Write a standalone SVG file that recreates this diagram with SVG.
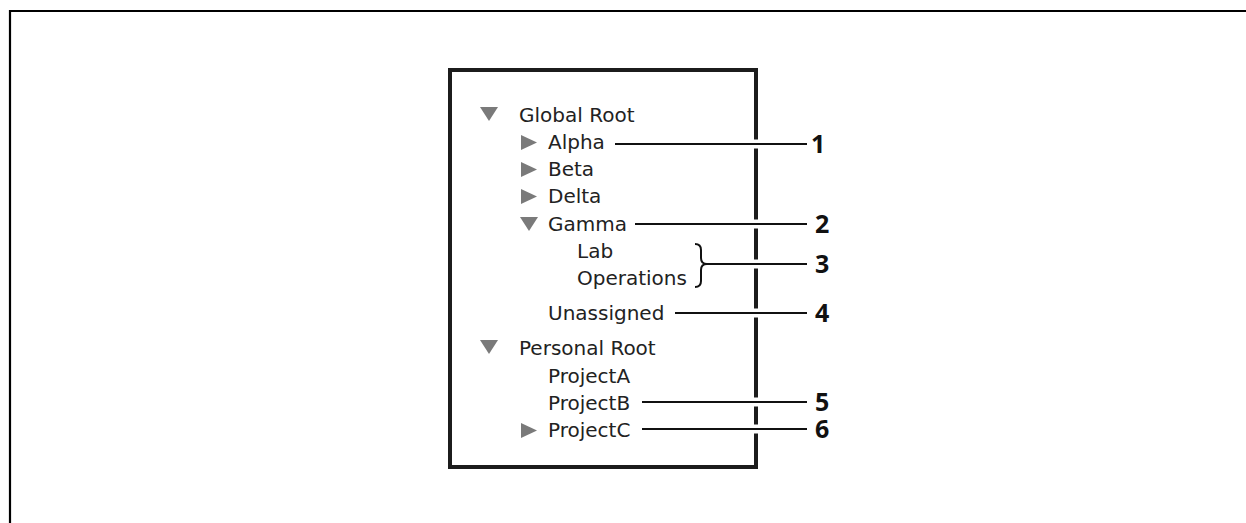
<svg xmlns="http://www.w3.org/2000/svg" width="1246" height="523" viewBox="0 0 1246 523">
  <style>
    .item { font-family: "DejaVu Sans", Verdana, sans-serif; font-size: 20px; fill: #222; }
    .num { font-family: "Open Sans", "Liberation Sans", sans-serif; font-size: 25px; font-weight: 700; fill: #111; }
    .tri { fill: #7a7a7a; }
    .halo { stroke: #fff; stroke-width: 9; fill: none; }
    .lead { stroke: #111; stroke-width: 2; fill: none; }
  </style>
  <rect width="1246" height="523" fill="#fff"/>
  <path id="frame" d="M10,523 V11 H1246" fill="none" stroke="#000" stroke-width="2.2"/>
  <rect id="panel" x="450" y="70" width="306" height="397" fill="none" stroke="#1c1c1c" stroke-width="4"/>

  <g id="node-global-root">
    <polygon class="tri" points="480,107 498,107 489,121"/>
    <text class="item" x="519" y="122">Global Root</text>
  </g>
  <g id="node-alpha">
    <polygon class="tri" points="521,135 537,142.5 521,150"/>
    <text class="item" x="548" y="149">Alpha</text>
  </g>
  <g id="node-beta">
    <polygon class="tri" points="521,162 537,169.5 521,177"/>
    <text class="item" x="548" y="176">Beta</text>
  </g>
  <g id="node-delta">
    <polygon class="tri" points="521,189 537,196.5 521,204"/>
    <text class="item" x="548" y="203">Delta</text>
  </g>
  <g id="node-gamma">
    <polygon class="tri" points="520,217 538,217 529,231"/>
    <text class="item" x="548" y="231">Gamma</text>
  </g>
  <g id="node-lab">
    <text class="item" x="577" y="258">Lab</text>
  </g>
  <g id="node-operations">
    <text class="item" x="577" y="285">Operations</text>
  </g>
  <g id="node-unassigned">
    <text class="item" x="548" y="320">Unassigned</text>
  </g>
  <g id="node-personal-root">
    <polygon class="tri" points="480,340 498,340 489,354"/>
    <text class="item" x="519" y="355">Personal Root</text>
  </g>
  <g id="node-projecta">
    <text class="item" x="548" y="383">ProjectA</text>
  </g>
  <g id="node-projectb">
    <text class="item" x="548" y="410">ProjectB</text>
  </g>
  <g id="node-projectc">
    <polygon class="tri" points="521,423 537,430.5 521,438"/>
    <text class="item" x="548" y="437">ProjectC</text>
  </g>

  <g id="connectors">
    <path class="halo" d="M615,144 H807 M635,224 H807 M707,264 H807 M675,313 H807 M642,402 H807 M642,429 H807"/>
    <path class="lead" d="M615,144 H807 M635,224 H807 M707,264 H807 M675,313 H807 M642,402 H807 M642,429 H807"/>
    <path class="lead" d="M695,244 Q701,244 701,250 V258 Q701,264 707,264 Q701,264 701,270 V281 Q701,287 695,287"/>
  </g>

  <g id="labels">
    <text class="num" x="811" y="153">1</text>
    <text class="num" x="815" y="233">2</text>
    <text class="num" x="815" y="273">3</text>
    <text class="num" x="815" y="322">4</text>
    <text class="num" x="815" y="411">5</text>
    <text class="num" x="815" y="438">6</text>
  </g>
</svg>
